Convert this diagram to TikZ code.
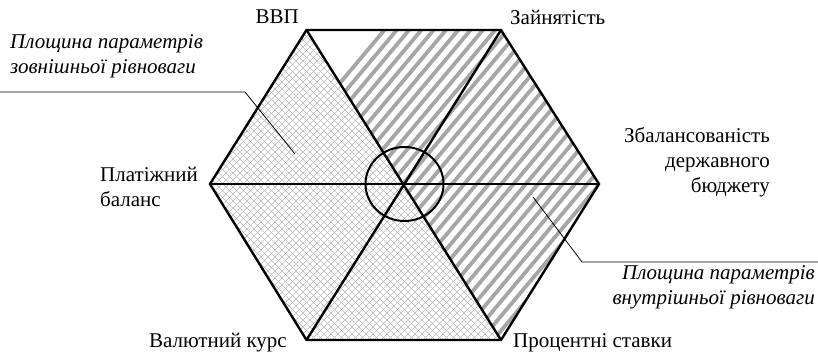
\documentclass[tikz,border=0pt]{standalone}
\usepackage{fontspec}
\setmainfont{Liberation Serif}
\usepackage{tikz}

\tikzset{
  lbl/.style={font=\fontsize{21}{25}\selectfont,inner sep=0pt},
  lblit/.style={font=\fontsize{21}{25}\selectfont\itshape,inner sep=0pt},
  hexline/.style={line width=2.4pt},
}

\begin{document}
\begin{tikzpicture}[x=1pt,y=-1pt]
  \useasboundingbox (0,0) rectangle (818,353);
  \coordinate (c) at (404.5,184); % центр
  \coordinate (tl) at (306.5,30);
  \coordinate (tr) at (501,30);
  \coordinate (r) at (599,184);
  \coordinate (br) at (501,340);
  \coordinate (bl) at (306.5,340);
  \coordinate (l) at (210,184);
  \begin{scope} % сітка: зовнішня рівновага
    \clip (c) -- (br) -- (bl) -- (l) -- (tl) -- cycle;
    \foreach \i in {0,7,...,840} {
      \draw[gray!55,line width=0.5pt] (\i,0) -- ++(-360,360);
      \draw[gray!55,line width=0.5pt] (\i-360,0) -- ++(360,360);
    }
  \end{scope}
  \begin{scope} % смуги: внутрішня рівновага
    \clip (c) -- (tl) -- (tr) -- (r) -- (br) -- cycle;
    \foreach \i in {0,...,40}
      \draw[gray!70,line width=3.8pt] (120+12.3*\i,345) -- ++(267,-318);
  \end{scope}
  \draw[hexline] (tl) -- (tr) -- (r) -- (br) -- (bl) -- (l) -- cycle;
  \draw[hexline] (tl) -- (br);
  \draw[hexline] (tr) -- (bl);
  \draw[hexline] (l) -- (r);
  \draw[line width=2pt] (c) ellipse [x radius=39pt,y radius=37pt];
  \node[lbl,anchor=east] (vvp) at (299,17) {ВВП};
  \node[lbl,anchor=west] (zain) at (510,17) {Зайнятість};
  \node[lbl,anchor=west,align=left] (plat) at (100,187) {Платіжний\\баланс};
  \node[lbl,anchor=east,align=right] (budg) at (770,162) {Збалансованість\\державного\\бюджету};
  \node[lbl,anchor=east] (val) at (287,343) {Валютний курс};
  \node[lbl,anchor=west] (proc) at (513,343) {Процентні ставки};
  \node[lblit,anchor=west,align=left] (zovn) at (10,56) {Площина параметрів\\зовнішньої рівноваги};
  \node[lblit,anchor=east,align=right] (vnutr) at (815,287) {Площина параметрів\\внутрішньої рівноваги};
  \coordinate (zl0) at (0,92);
  \coordinate (zl1) at (245,92);
  \coordinate (zl2) at (295,154);
  \draw[line width=0.8pt] (zl0) -- (zl1) -- (zl2); % виноска ліворуч
  \coordinate (vl0) at (533,197);
  \coordinate (vl1) at (582,262);
  \coordinate (vl2) at (818,262);
  \draw[line width=0.8pt] (vl0) -- (vl1) -- (vl2); % виноска праворуч
\end{tikzpicture}
\end{document}
